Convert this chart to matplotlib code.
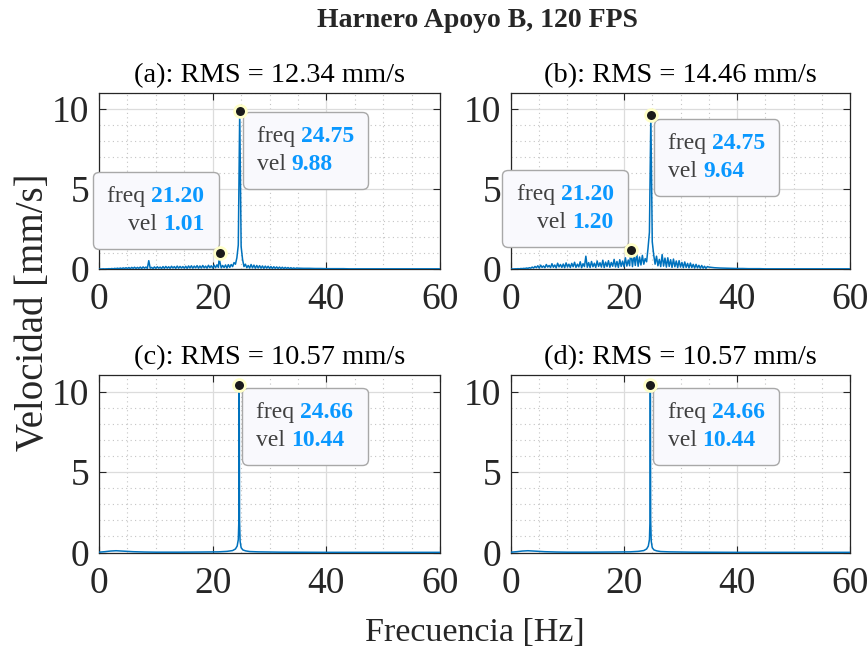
import numpy as np
import matplotlib
matplotlib.use("Agg")
import matplotlib.pyplot as plt
from matplotlib.ticker import MultipleLocator
from matplotlib.offsetbox import TextArea, HPacker, VPacker, AnnotationBbox

plt.rcParams['font.family'] = ['Liberation Serif', 'DejaVu Serif']

# Spectrum samples: 0.25 Hz steps up to 35 Hz, then 1 Hz steps to 60 Hz
freq_grid = np.concatenate([np.arange(0, 35, 0.25), np.arange(35, 61, 1.0)])

vel_a = [
    0.00, 0.00, 0.00, 0.01, 0.00, 0.01, 0.01, 0.02, 0.01, 0.03, 0.01, 0.04, 0.02, 0.05, 0.02, 0.06, 0.02, 0.07, 0.03, 0.08,
    0.03, 0.09, 0.02, 0.10, 0.04, 0.11, 0.03, 0.10, 0.04, 0.12, 0.03, 0.13, 0.05, 0.12, 0.04, 0.52, 0.05, 0.10, 0.03, 0.13,
    0.04, 0.14, 0.05, 0.12, 0.03, 0.15, 0.04, 0.16, 0.05, 0.14, 0.04, 0.17, 0.06, 0.15, 0.04, 0.18, 0.05, 0.16, 0.06, 0.15,
    0.05, 0.17, 0.04, 0.19, 0.06, 0.20, 0.05, 0.18, 0.07, 0.21, 0.05, 0.19, 0.06, 0.22, 0.07, 0.18, 0.05, 0.23, 0.08, 0.20,
    0.06, 0.24, 0.08, 0.26, 0.10, 0.45, 0.07, 0.22, 0.09, 0.25, 0.06, 0.27, 0.10, 0.28, 0.15, 0.40, 0.30, 0.70, 1.50, 9.88,
    1.40, 0.60, 0.15, 0.30, 0.08, 0.22, 0.06, 0.28, 0.07, 0.24, 0.05, 0.22, 0.06, 0.21, 0.05, 0.19, 0.04, 0.18, 0.05, 0.17,
    0.04, 0.15, 0.03, 0.14, 0.04, 0.13, 0.03, 0.12, 0.03, 0.11, 0.02, 0.10, 0.03, 0.09, 0.02, 0.08, 0.02, 0.07, 0.02, 0.06,
    0.05, 0.04, 0.04, 0.03, 0.03, 0.02, 0.02, 0.02, 0.02, 0.01, 0.01, 0.01, 0.01,
    0.01, 0.01, 0.01, 0.01, 0.01, 0.01, 0.01, 0.01, 0.01, 0.01, 0.01, 0.01, 0.01,
]

vel_b = [
    0.00, 0.00, 0.00, 0.01, 0.01, 0.02, 0.01, 0.03, 0.02, 0.04, 0.03, 0.06, 0.04, 0.08, 0.05, 0.12, 0.06, 0.16, 0.08, 0.20,
    0.06, 0.24, 0.10, 0.19, 0.08, 0.28, 0.12, 0.22, 0.09, 0.33, 0.11, 0.25, 0.07, 0.36, 0.13, 0.28, 0.10, 0.31, 0.08, 0.38,
    0.12, 0.30, 0.09, 0.35, 0.14, 0.42, 0.10, 0.30, 0.13, 0.45, 0.08, 0.33, 0.15, 0.80, 0.11, 0.40, 0.09, 0.47, 0.14, 0.36,
    0.10, 0.50, 0.16, 0.39, 0.12, 0.55, 0.09, 0.43, 0.15, 0.52, 0.11, 0.41, 0.17, 0.60, 0.13, 0.47, 0.10, 0.58, 0.16, 0.49,
    0.14, 0.70, 0.18, 0.56, 0.20, 0.95, 0.15, 0.90, 0.22, 1.00, 0.17, 0.75, 0.25, 0.85, 0.30, 0.65, 0.45, 1.30, 2.30, 9.64,
    1.70, 0.90, 0.30, 0.80, 0.20, 0.60, 0.15, 0.90, 0.18, 0.68, 0.12, 0.70, 0.16, 0.58, 0.10, 0.62, 0.14, 0.50, 0.09, 0.52,
    0.12, 0.41, 0.08, 0.44, 0.10, 0.35, 0.07, 0.37, 0.09, 0.29, 0.06, 0.29, 0.07, 0.23, 0.05, 0.22, 0.05, 0.17, 0.04, 0.15,
    0.12, 0.08, 0.06, 0.05, 0.04, 0.03, 0.03, 0.02, 0.02, 0.02, 0.01, 0.01, 0.01,
    0.01, 0.01, 0.01, 0.01, 0.01, 0.01, 0.01, 0.01, 0.01, 0.01, 0.01, 0.01, 0.01,
]

# Panels (c) and (d) share the same smooth spectrum
freq_cd = [0, 1, 2, 3, 4, 5, 6, 8, 10, 14, 18, 21, 22.5, 23.5, 24, 24.3, 24.5, 24.6, 24.66,
           24.72, 24.82, 25.0, 25.3, 25.8, 26.5, 28, 32, 40, 50, 60]
vel_cd = [0.02, 0.05, 0.09, 0.11, 0.09, 0.07, 0.05, 0.03, 0.02, 0.02, 0.03, 0.04, 0.07, 0.12, 0.22, 0.40, 0.8, 2.0, 10.44,
          2.0, 0.7, 0.30, 0.16, 0.10, 0.06, 0.04, 0.02, 0.01, 0.01, 0.01]

titles = ["(a): RMS = 12.34 mm/s", "(b): RMS = 14.46 mm/s",
          "(c): RMS = 10.57 mm/s", "(d): RMS = 10.57 mm/s"]

# data tips: (freq, vel, frame corner offset in pixels, box alignment, text alignment)
tips = [
    [(24.75, 9.88, (3, -1), (0, 1), "left"), (21.20, 1.01, (-1, 4), (1, 0), "right")],
    [(24.75, 9.64, (3, -4), (0, 1), "left"), (21.20, 1.20, (-3, 3), (1, 0), "right")],
    [(24.66, 10.44, (3, -3), (0, 1), "left")],
    [(24.66, 10.44, (3, -3), (0, 1), "left")],
]

line_color = "#0072BD"
tip_blue = "#0A98FF"
tip_gray = "#404040"
TIP_FS = 17
TIP_PAD = 0.6


def with_tips(freq, vel, tip_list):
    # make sure the curve passes through every data tip
    f = np.append(np.asarray(freq, float), [t[0] for t in tip_list])
    v = np.append(np.asarray(vel, float), [t[1] for t in tip_list])
    order = np.argsort(f, kind="stable")
    return f[order], v[order]


def add_tip(ax, f, v, offset, box_align, text_align):
    rows = []
    for name, val in (("freq ", f), ("vel ", v)):
        rows.append(HPacker(children=[TextArea(name, textprops=dict(color=tip_gray, fontsize=TIP_FS)),
                                      TextArea(f"{val:.2f}", textprops=dict(color=tip_blue, fontsize=TIP_FS,
                                                                             fontweight="bold"))],
                            sep=0, pad=0, align="baseline"))
    box = VPacker(children=rows, sep=5, pad=0, align=text_align)
    # the frame is drawn outside the packed text, so move the text by the frame padding
    pad_px = TIP_PAD * TIP_FS * fig.dpi / 72
    sx = 1 if box_align[0] == 0 else -1
    sy = 1 if box_align[1] == 0 else -1
    xybox = (offset[0] + sx * pad_px, offset[1] + sy * pad_px)
    ab = AnnotationBbox(box, (f, v), xybox=xybox, boxcoords="offset pixels",
                        box_alignment=box_align, pad=TIP_PAD, fontsize=TIP_FS,
                        bboxprops=dict(boxstyle=f"round,pad={TIP_PAD},rounding_size=0.25",
                                       facecolor="#F9F9FD", edgecolor="#A8A8A8", linewidth=1.0),
                        zorder=5)
    ax.add_artist(ab)
    ax.plot(f, v, "o", markersize=8.5, markerfacecolor="#1a1a1a",
            markeredgecolor="#FFFFC8", markeredgewidth=2, zorder=6, clip_on=False)


fig = plt.figure(figsize=(8.68, 6.51), dpi=100)
positions = [[0.1141, 0.5868, 0.3929, 0.2704], [0.5887, 0.5868, 0.3906, 0.2704],
             [0.1141, 0.1513, 0.3929, 0.2719], [0.5887, 0.1513, 0.3906, 0.2719]]
series = [(freq_grid, vel_a), (freq_grid, vel_b), (freq_cd, vel_cd), (freq_cd, vel_cd)]

for pos, (fr, vl), title, tip_list in zip(positions, series, titles, tips):
    ax = fig.add_axes(pos)
    f, v = with_tips(fr, vl, tip_list)
    ax.plot(f, v, color=line_color, linewidth=1.1, zorder=3)
    ax.set_xlim(0, 60)
    ax.set_ylim(0, 11)
    ax.xaxis.set_major_locator(MultipleLocator(20))
    ax.xaxis.set_minor_locator(MultipleLocator(5))
    ax.yaxis.set_major_locator(MultipleLocator(5))
    ax.yaxis.set_minor_locator(MultipleLocator(1))
    ax.grid(which="major", color="#DCDCDC", linewidth=0.9, linestyle="-")
    ax.grid(which="minor", color="#C4C4C4", linewidth=0.8, linestyle=(0, (1, 3)))
    ax.set_axisbelow(True)
    ax.tick_params(which="major", direction="in", length=5, width=0.8, top=True, right=True,
                   labelsize=27, colors="#262626")
    ax.tick_params(axis="x", which="major", pad=10)
    ax.tick_params(axis="y", which="major", pad=7)
    ax.tick_params(which="minor", length=0)
    for sp in ax.spines.values():
        sp.set_color("#262626")
        sp.set_linewidth(0.9)
    ax.set_title(title, fontsize=20.5, pad=8, color="black")
    for t in tip_list:
        add_tip(ax, *t)

fig.text(0.550, 0.969, "Harnero Apoyo B, 120 FPS", ha="center", va="center",
         fontsize=20, fontweight="bold", color="#262626")
fig.text(0.547, 1 - 633 / 651, "Frecuencia [Hz]", ha="center", va="center", fontsize=24.5, color="#262626")
fig.text(34 / 868, 1 - 312 / 651, "Velocidad [mm/s]", ha="center", va="center", rotation=90,
         fontsize=28, color="#262626")

fig.savefig("out.png", dpi=100)
